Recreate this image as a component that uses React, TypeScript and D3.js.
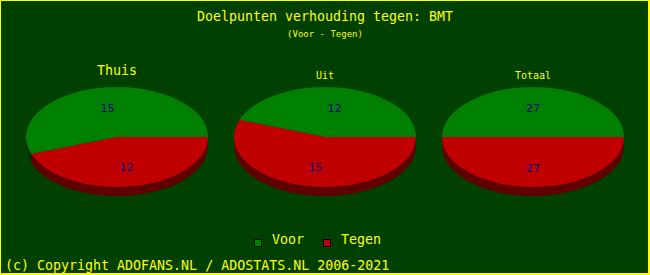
import React from "react";
import * as d3 from "d3";

const W = 650;
const H = 275;

const title = "Doelpunten verhouding tegen: BMT";
const subtitle = "(Voor - Tegen)";
const pieTitles = ["Thuis", "Uit", "Totaal"];
const seriesNames = ["Voor", "Tegen"];
const voorValues = [15, 12, 27];
const tegenValues = [12, 15, 27];
const copyright = "(c) Copyright ADOFANS.NL / ADOSTATS.NL 2006-2021";

const topColors = ["#008000", "#c00000"];
const sideColors = ["#003000", "#600000"];
const BG = "#004000";
const YEL = "#ffff00";
const MONO = "'DejaVu Sans Mono', 'Liberation Mono', monospace";

const pieCentersX = d3.scaleLinear().domain([0, 1]).range([0, W]);
const centerFractions = [0.18, 0.5, 0.82];
const RX = 91;
const RY = 50;
const CY = 137;
const DEPTH = 9;

function pt(cx: number, cy: number, a: number, dy = 0): [number, number] {
  return [cx + RX * Math.cos(a), cy - RY * Math.sin(a) + dy];
}

function topPath(cx: number, cy: number, s: number, e: number) {
  const [x0, y0] = pt(cx, cy, s);
  const [x1, y1] = pt(cx, cy, e);
  const large = e - s > Math.PI ? 1 : 0;
  if (e - s >= 2 * Math.PI - 1e-6) {
    return `M${cx - RX},${cy}A${RX},${RY} 0 1 0 ${cx + RX},${cy}A${RX},${RY} 0 1 0 ${cx - RX},${cy}Z`;
  }
  return `M${cx},${cy}L${x0},${y0}A${RX},${RY} 0 ${large} 0 ${x1},${y1}Z`;
}

function sidePath(cx: number, cy: number, s: number, e: number) {
  // visible lower half: angles in [PI, 2PI]
  const a = Math.max(s, Math.PI);
  const b = Math.min(e, 2 * Math.PI);
  if (b <= a) return null;
  const [x0, y0] = pt(cx, cy, a);
  const [x1, y1] = pt(cx, cy, b);
  return `M${x0},${y0}A${RX},${RY} 0 0 0 ${x1},${y1}L${x1},${y1 + DEPTH}A${RX},${RY} 0 0 1 ${x0},${y0 + DEPTH}Z`;
}

export default function App() {
  const pie = d3
    .pie<number>()
    .sort(null)
    .startAngle(0)
    .endAngle(2 * Math.PI);

  const titleSizes = [13.3, 10, 10];
  const titleBaselines = [75, 79, 79];

  return (
    <div style={{ position: "fixed", left: 0, top: 0, width: W, height: H }}>
      <svg width={W} height={H} style={{ display: "block" }}>
        <rect x={0} y={0} width={W} height={H} fill={YEL} />
        <rect x={1} y={1} width={W - 3} height={H - 3} fill={BG} />
        <text x={W / 2} y={21} fill={YEL} fontFamily={MONO} fontSize={13.3} textAnchor="middle">
          {title}
        </text>
        <text x={W / 2} y={37} fill={YEL} fontFamily={MONO} fontSize={9} textAnchor="middle">
          {subtitle}
        </text>
        {pieTitles.map((t, i) => {
          const cx = pieCentersX(centerFractions[i]);
          const arcs = pie([voorValues[i], tegenValues[i]]);
          return (
            <g key={t}>
              <text
                x={cx}
                y={titleBaselines[i]}
                fill={YEL}
                fontFamily={MONO}
                fontSize={titleSizes[i]}
                textAnchor="middle"
              >
                {t}
              </text>
              {arcs.map((a, j) => {
                const d = sidePath(cx, CY, a.startAngle, a.endAngle);
                return d ? <path key={"s" + j} d={d} fill={sideColors[j]} /> : null;
              })}
              {arcs.map((a, j) => (
                <path key={"t" + j} d={topPath(cx, CY, a.startAngle, a.endAngle)} fill={topColors[j]} />
              ))}
              {arcs.map((a, j) => {
                const mid = (a.startAngle + a.endAngle) / 2;
                const lx = cx + 0.6 * RX * Math.cos(mid);
                const ly = CY - 0.6 * RY * Math.sin(mid);
                return (
                  <text
                    key={"l" + j}
                    x={lx}
                    y={ly + 4.5}
                    fill="#000080"
                    fontFamily="'DejaVu Sans', sans-serif"
                    fontSize={11}
                    textAnchor="middle"
                  >
                    {a.data}
                  </text>
                );
              })}
            </g>
          );
        })}
        {/* legend */}
        {seriesNames.map((n, i) => {
          const x0 = [254, 323][i];
          return (
            <g key={n}>
              <rect x={x0 + 0.5} y={239.5} width={7} height={7} fill={topColors[i]} stroke="#000" strokeWidth={1} />
              <text x={x0 + 18} y={244} fill={YEL} fontFamily={MONO} fontSize={13.3}>
                {n}
              </text>
            </g>
          );
        })}
        <text x={5} y={269.5} fill={YEL} fontFamily={MONO} fontSize={13.3}>
          {copyright}
        </text>
      </svg>
    </div>
  );
}
